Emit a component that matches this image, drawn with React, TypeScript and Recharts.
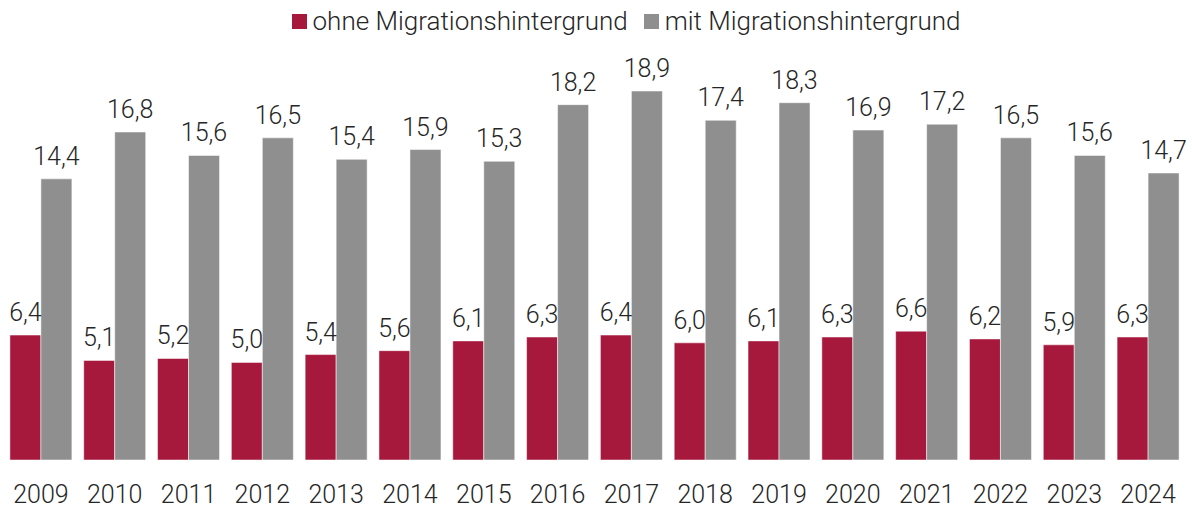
import { BarChart, Bar, XAxis, YAxis, LabelList } from 'recharts';

const years = ['2009', '2010', '2011', '2012', '2013', '2014', '2015', '2016', '2017', '2018', '2019', '2020', '2021', '2022', '2023', '2024'];
const ohneMigration = [6.4, 5.1, 5.2, 5.0, 5.4, 5.6, 6.1, 6.3, 6.4, 6.0, 6.1, 6.3, 6.6, 6.2, 5.9, 6.3];
const mitMigration = [14.4, 16.8, 15.6, 16.5, 15.4, 15.9, 15.3, 18.2, 18.9, 17.4, 18.3, 16.9, 17.2, 16.5, 15.6, 14.7];

const CRIMSON = '#a6193c';
const GRAY = '#8e8f8e';
const TEXT = '#262626';
const FONT = 'Roboto, sans-serif';

const data = years.map((year, i) => ({
  year,
  ohne: ohneMigration[i],
  mit: mitMigration[i],
}));

const fmt = (v: unknown) => Number(v).toFixed(1).replace('.', ',');
const textStyle = { fill: TEXT, fontSize: 25, fontFamily: FONT, fontWeight: 300 };

function TopLegend() {
  const items = [
    { label: 'ohne Migrationshintergrund', color: CRIMSON },
    { label: 'mit Migrationshintergrund', color: GRAY },
  ];
  return (
    <div style={{ position: 'absolute', top: 6, left: 30, width: 1192, display: 'flex', justifyContent: 'center', gap: 16, fontFamily: FONT, fontWeight: 300, fontSize: 26, color: TEXT, lineHeight: '30px' }}>
      {items.map(item => (
        <div key={item.label} style={{ display: 'flex', alignItems: 'center' }}>
          <span style={{ display: 'inline-block', width: 15, height: 15, background: item.color, marginRight: 6 }} />
          <span>{item.label}</span>
        </div>
      ))}
    </div>
  );
}

export default function App() {
  return (
    <div style={{ position: 'absolute', left: 0, top: 0, width: 1192, height: 508, background: '#fff', overflow: 'hidden' }}>
      <TopLegend />
      <BarChart
        width={1192}
        height={508}
        data={data}
        margin={{ top: 50, right: 7, left: 4, bottom: 0 }}
        barCategoryGap="8%"
        barGap={0}
      >
        <XAxis
          dataKey="year"
          axisLine={false}
          tickLine={false}
          height={48}
          tick={textStyle}
          tickMargin={19}
        />
        <YAxis hide domain={[0, 21]} />
        <Bar dataKey="ohne" fill={CRIMSON} stroke="#ffffff" strokeOpacity={0.5} isAnimationActive={false}>
          <LabelList dataKey="ohne" position="top" offset={14} formatter={fmt} style={textStyle} />
        </Bar>
        <Bar dataKey="mit" fill={GRAY} stroke="#ffffff" strokeOpacity={0.5} isAnimationActive={false}>
          <LabelList dataKey="mit" position="top" offset={14} formatter={fmt} style={textStyle} />
        </Bar>
      </BarChart>
    </div>
  );
}
